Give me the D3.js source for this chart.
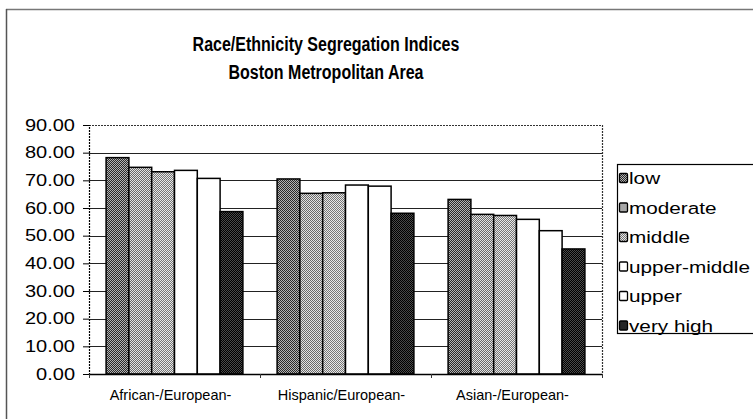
<!DOCTYPE html>
<html>
<head>
<meta charset="utf-8">
<script src="https://cdn.jsdelivr.net/npm/d3@7"></script>
<style>
  body { margin: 0; background: #fff; }
  text { font-family: Arial, "Liberation Sans", sans-serif; fill: #000; }
</style>
</head>
<body>
<div id="chart"></div>
<script>
/* DATA */
const groups = ["African-/European-", "Hispanic/European-", "Asian-/European-"];
const levels = ["low", "moderate", "middle", "upper-middle", "upper", "very high"];
const african = [78.2, 74.7, 73.1, 73.6, 70.7, 58.7];
const hispanic = [70.5, 65.3, 65.5, 68.3, 67.9, 58.1];
const asian = [63.1, 57.7, 57.3, 55.9, 51.8, 45.2];
const yTicks = [0, 10, 20, 30, 40, 50, 60, 70, 80, 90];
const titleLines = ["Race/Ethnicity Segregation Indices", "Boston Metropolitan Area"];

const seriesByGroup = [african, hispanic, asian];

/* LAYOUT */
const width = 753,
  height = 419,
  plot = { left: 89, right: 602, top: 125, bottom: 374 };

const svg = d3.select("#chart")
  .append("svg")
  .attr("width", width)
  .attr("height", height);

// the scanned original squeezes/widens some text sideways; scale x only
function hscale(sel, k) {
  sel.each(function () {
    const t = d3.select(this);
    const x = +t.attr("x") || 0;
    t.attr("x", x / k).attr("transform", `scale(${k},1)`);
  });
}

// halftone-ish fills, one per level
const defs = svg.append("defs");
const fills = [
  { id: "p-low", a: "#2a2a2a", b: "#b4b4b4" },
  { id: "p-moderate", a: "#6a6a6a", b: "#e4e4e4" },
  { id: "p-middle", a: "#767676", b: "#e8e8e8" },
  { id: "p-uppermiddle", a: "#ffffff", b: "#ffffff" },
  { id: "p-upper", a: "#ffffff", b: "#ffffff" },
  { id: "p-veryhigh", a: "#000000", b: "#4a4a4a" }
];
fills.forEach(f => {
  const p = defs.append("pattern")
    .attr("id", f.id)
    .attr("width", 2).attr("height", 2)
    .attr("patternUnits", "userSpaceOnUse");
  p.append("rect").attr("width", 2).attr("height", 2).attr("fill", f.b);
  p.append("rect").attr("width", 1).attr("height", 1).attr("fill", f.a);
  p.append("rect").attr("x", 1).attr("y", 1).attr("width", 1).attr("height", 1).attr("fill", f.a);
});
const fillFor = i => `url(#${fills[i].id})`;

// outer chart frame
svg.append("line")
  .attr("x1", 6).attr("x2", width).attr("y1", 9.5).attr("y2", 9.5)
  .attr("stroke", "#777").attr("stroke-width", 1.5);
svg.append("line")
  .attr("x1", 6.5).attr("x2", 6.5).attr("y1", 9).attr("y2", height)
  .attr("stroke", "#555").attr("stroke-width", 1.5);

/* SCALES */
const x0 = d3.scaleBand()
  .domain(groups)
  .range([plot.left, plot.right])
  .paddingInner(0)
  .paddingOuter(0);

const x1 = d3.scaleBand()
  .domain(levels)
  .range([0, x0.bandwidth()])
  .paddingOuter(0.75)   // Excel gap width 150%
  .paddingInner(0);

const y = d3.scaleLinear()
  .domain([0, 90])
  .range([plot.bottom, plot.top]);

/* TITLE */
svg.append("g")
  .selectAll("text")
  .data(titleLines)
  .join("text")
  .attr("x", 326)
  .attr("y", (d, i) => 51 + i * 28)
  .attr("text-anchor", "middle")
  .attr("font-size", 20)
  .attr("font-weight", "bold")
  .text(d => d)
  .call(hscale, 0.8);

/* GRIDLINES */
svg.append("g")
  .selectAll("line")
  .data(yTicks.filter(t => t > 0 && t < 90))
  .join("line")
  .attr("x1", plot.left).attr("x2", plot.right)
  .attr("y1", d => Math.round(y(d)) + 0.5).attr("y2", d => Math.round(y(d)) + 0.5)
  .attr("stroke", "#222").attr("stroke-width", 1.2);

// plot border: dotted top/right
svg.append("path")
  .attr("d", `M${plot.left},${plot.top + 0.5}H${plot.right + 0.5}V${plot.bottom}`)
  .attr("fill", "none")
  .attr("stroke", "#333")
  .attr("stroke-width", 1.2)
  .attr("stroke-dasharray", "2,1");

/* BARS */
svg.append("g")
  .selectAll("g")
  .data(groups)
  .join("g")
  .attr("transform", d => `translate(${x0(d)},0)`)
  .selectAll("rect")
  .data((g, gi) => seriesByGroup[gi].map((v, i) => ({ level: levels[i], i, v })))
  .join("rect")
  .attr("x", d => x1(d.level))
  .attr("y", d => y(d.v))
  .attr("width", x1.bandwidth())
  .attr("height", d => y(0) - y(d.v))
  .attr("fill", d => fillFor(d.i))
  .attr("stroke", "#000")
  .attr("stroke-width", 1.5);

/* AXES */
const yAxis = d3.axisLeft(y)
  .tickValues(yTicks)
  .tickSize(6)
  .tickPadding(8)
  .tickFormat(d3.format(".2f"));

svg.append("g")
  .attr("class", "y-axis")
  .attr("transform", `translate(${plot.left},0)`)
  .call(yAxis)
  .call(g => g.select(".domain").attr("stroke-width", 1.2).attr("stroke-dasharray", "2,1"))
  .call(g => g.selectAll("text")
    .attr("font-size", 16)
    .attr("font-family", "Arial, 'Liberation Sans', sans-serif")
    .call(hscale, 1.25));

const xAxis = d3.axisBottom(x0)
  .tickSize(0)
  .tickPadding(16)
  .tickSizeOuter(0);

svg.append("g")
  .attr("class", "x-axis")
  .attr("transform", `translate(0,${plot.bottom})`)
  .call(xAxis)
  .call(g => g.select(".domain").attr("stroke-width", 1.5))
  .call(g => g.selectAll("text")
    .attr("font-size", 14.5)
    .attr("font-family", "Arial, 'Liberation Sans', sans-serif")
    .attr("dx", -4));

// small category-boundary ticks under the x axis
svg.append("g")
  .selectAll("line")
  .data(groups.map(g => x0(g)).concat([x0.range()[1]]))
  .join("line")
  .attr("x1", d => d + 0.5).attr("x2", d => d + 0.5)
  .attr("y1", plot.bottom).attr("y2", plot.bottom + 4)
  .attr("stroke", "#333").attr("stroke-width", 1);

/* LEGEND */
const legend = svg.append("g").attr("transform", "translate(617,164)");
legend.append("rect")
  .attr("x", 0.5).attr("y", 0.5)
  .attr("width", 145).attr("height", 169)
  .attr("fill", "#fff")
  .attr("stroke", "#000")
  .attr("stroke-width", 1.2);

const item = legend.selectAll("g.item")
  .data(levels)
  .join("g")
  .attr("class", "item")
  .attr("transform", (d, i) => `translate(2,${14 + i * 29.5})`);

item.append("rect")
  .attr("x", 0.5).attr("y", -4.5)
  .attr("width", 8).attr("height", 9)
  .attr("rx", 1)
  .attr("fill", (d, i) => fillFor(i))
  .attr("stroke", "#000")
  .attr("stroke-width", 1.3);

item.append("text")
  .attr("x", 10)
  .attr("y", 6)
  .attr("font-size", 17)
  .text(d => d)
  .call(hscale, 1.22);
</script>
</body>
</html>
